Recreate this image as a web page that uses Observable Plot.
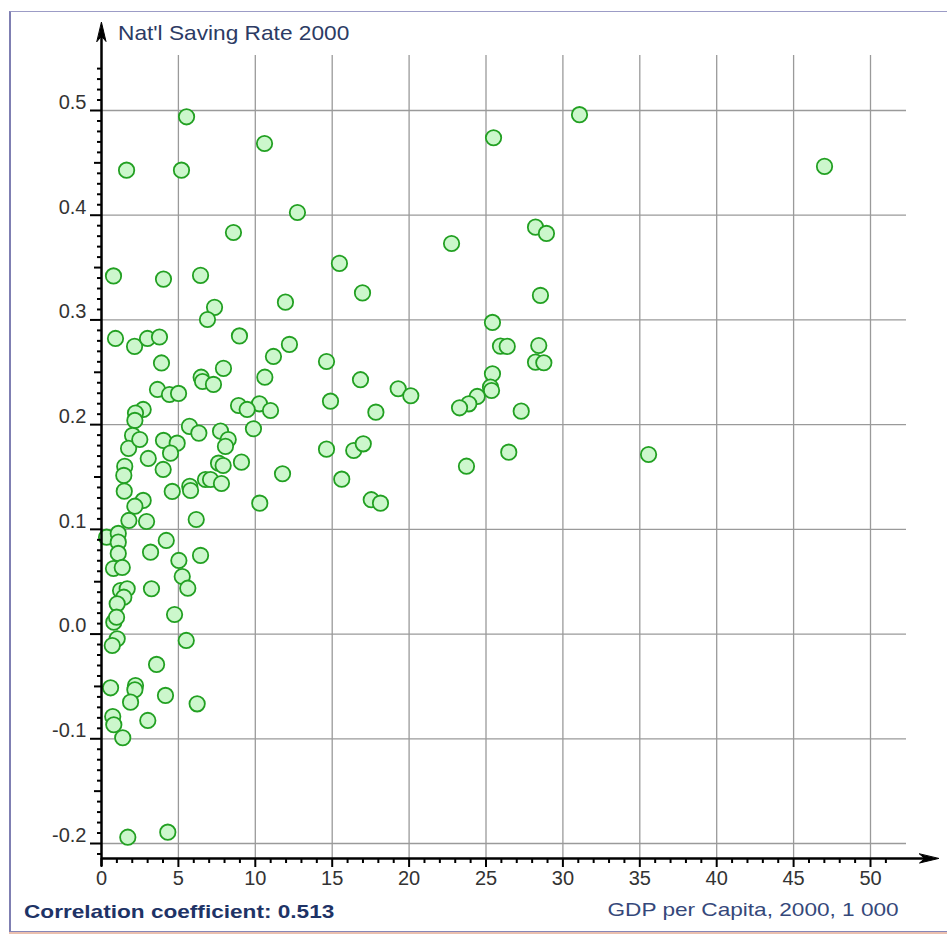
<!DOCTYPE html>
<html>
<head>
<meta charset="utf-8">
<script src="https://cdn.jsdelivr.net/npm/d3@7"></script>
<script src="https://cdn.jsdelivr.net/npm/@observablehq/plot@0.6"></script>
<style>
  html, body { margin: 0; padding: 0; background: #fff; }
  body { width: 947px; height: 935px; position: relative; overflow: hidden; font-family: "Liberation Sans", Arial, sans-serif; }
  #frame { position: absolute; left: 9px; top: 11px; width: 960px; height: 919px;
           border-left: 2px solid #7f7fb2; border-top: 1px solid #9c9cc6; border-bottom: 1px solid #8787b8;
           box-shadow: 0 2px 0 #ebbfae; }
  #chart { position: absolute; left: 0; top: 0; }
  .txt { position: absolute; line-height: 1; white-space: nowrap; }
  #title { left: 118px; top: 22px; font-size: 21px; color: #2c3b64; transform-origin: left top; transform: scaleX(1.08); }
  #corr { left: 24px; top: 902px; font-size: 19px; font-weight: bold; color: #1e3366; transform-origin: left top; transform: scaleX(1.19); }
  #xlab { right: 48px; top: 900px; font-size: 19px; color: #35487a; transform-origin: right top; transform: scaleX(1.19); }
</style>
</head>
<body>
<div id="frame"></div>
<div id="chart"></div>
<div class="txt" id="title">Nat'l Saving Rate 2000</div>
<div class="txt" id="corr">Correlation coefficient: 0.513</div>
<div class="txt" id="xlab">GDP per Capita, 2000, 1 000</div>
<script>
// GDP per capita, 2000 (thousands)
const gdpPerCapita = [
  5.53, 10.60, 1.63, 5.20, 31.08, 25.49, 47.01, 12.74, 8.58, 22.76,
  28.22, 28.93, 0.78, 4.03, 6.44, 15.47, 16.97, 11.96, 7.35, 6.89,
  28.54, 25.42, 0.91, 2.15, 2.99, 3.77, 8.97, 12.22, 11.18, 3.90,
  7.93, 6.48, 6.57, 7.28, 10.62, 14.63, 25.94, 26.38, 28.43, 28.22,
  28.76, 25.42, 16.84, 3.64, 4.42, 5.01, 19.29, 20.11, 14.89, 25.29,
  25.36, 24.43, 23.88, 23.28, 27.29, 17.84, 2.71, 2.21, 2.17, 10.27,
  8.91, 9.47, 10.99, 5.72, 9.88, 2.02, 1.76, 2.49, 4.03, 4.92,
  6.33, 7.74, 8.24, 8.06, 14.63, 16.40, 17.02, 35.57, 26.48, 3.04,
  4.49, 1.51, 4.01, 7.61, 7.91, 9.10, 11.77, 23.73, 1.45, 6.76,
  7.09, 7.80, 15.62, 1.48, 4.60, 5.74, 5.79, 17.54, 18.14, 10.29,
  2.71, 2.17, 1.78, 2.93, 6.16, 0.33, 1.09, 1.09, 4.21, 3.19,
  1.09, 6.44, 5.03, 0.78, 1.35, 5.25, 5.61, 3.25, 1.24, 1.67,
  1.45, 1.02, 4.75, 0.80, 0.98, 5.51, 1.02, 0.70, 3.58, 0.59,
  2.21, 2.17, 4.16, 6.22, 1.89, 0.73, 0.80, 3.01, 1.38, 1.71,
  4.31
];
// National saving rate, 2000
const savingRate = [
  0.494, 0.4685, 0.443, 0.443, 0.496, 0.474, 0.4466, 0.4026, 0.3835, 0.373,
  0.3886, 0.3826, 0.342, 0.339, 0.3425, 0.354, 0.3258, 0.317, 0.312, 0.3004,
  0.3234, 0.2976, 0.2823, 0.2747, 0.2823, 0.2837, 0.2847, 0.2766, 0.2651, 0.2589,
  0.2537, 0.2453, 0.2412, 0.2384, 0.2453, 0.2603, 0.2750, 0.2747, 0.2756, 0.2597,
  0.2591, 0.2486, 0.2429, 0.2336, 0.2288, 0.2298, 0.2343, 0.2276, 0.2224, 0.2358,
  0.2326, 0.2269, 0.2199, 0.2161, 0.2129, 0.2119, 0.2145, 0.211, 0.204, 0.2199,
  0.2183, 0.2145, 0.2135, 0.1983, 0.1961, 0.1897, 0.1773, 0.1858, 0.1849, 0.1823,
  0.1919, 0.1938, 0.1858, 0.1792, 0.1766, 0.1753, 0.1817, 0.1715, 0.1737, 0.1677,
  0.1728, 0.1601, 0.1572, 0.1632, 0.161, 0.1642, 0.1531, 0.1603, 0.1515, 0.1476,
  0.1476, 0.1438, 0.1479, 0.1365, 0.1362, 0.141, 0.1371, 0.1283, 0.125, 0.125,
  0.1276, 0.1221, 0.1085, 0.1075, 0.1094, 0.0925, 0.0961, 0.0878, 0.0894, 0.0782,
  0.077, 0.0751, 0.0703, 0.0626, 0.0636, 0.055, 0.0438, 0.0433, 0.0416, 0.0433,
  0.0352, 0.0289, 0.0187, 0.0114, 0.0161, -0.0061, -0.0045, -0.0109, -0.029, -0.0513,
  -0.0491, -0.0532, -0.0586, -0.0666, -0.065, -0.0787, -0.0866, -0.0825, -0.099, -0.194,
  -0.1892
];
const xTicks = [0, 5, 10, 15, 20, 25, 30, 35, 40, 45, 50];
const xTickLabels = ["0", "5", "10", "15", "20", "25", "30", "35", "40", "45", "50"];
const yTicks = [-0.2, -0.1, 0.0, 0.1, 0.2, 0.3, 0.4, 0.5];
const yTickLabels = ["-0.2", "-0.1", "0.0", "0.1", "0.2", "0.3", "0.4", "0.5"];

const points = gdpPerCapita.map((g, i) => ({gdp: g, saving: savingRate[i]}));
const xLab = xTicks.map((v, i) => ({v, t: xTickLabels[i]}));
const yLab = yTicks.map((v, i) => ({v, t: yTickLabels[i]}));

// scale geometry
const xDomain = [0, 50], xRange = [101, 870];
const yDomain = [-0.2, 0.5], yRange = [843, 110];
const kx = (xRange[1] - xRange[0]) / (xDomain[1] - xDomain[0]);
const ky = (yRange[0] - yRange[1]) / (yDomain[1] - yDomain[0]);
const px2x = (p) => xDomain[0] + (p - xRange[0]) / kx;
const px2y = (p) => yDomain[0] + (yRange[0] - p) / ky;

const xAxisY = px2y(858);      // value at which the x axis line sits
const yAxisTop = px2y(22);     // arrow tip of y axis
const xAxisEnd = px2x(938);    // arrow tip of x axis
const gridTop = px2y(55);
const gridRight = px2x(906);

const yMinor = d3.range(-21, 55).map(i => i / 100).filter(v => Math.abs(Math.round(v * 20) - v * 20) > 1e-6);
const yMid = d3.range(-3, 10, 2).map(i => i / 20); // -0.15 ... 0.45
const xMinor = d3.range(0, 52).filter(v => v % 5 !== 0);

const arrowHead = {
  draw(context, l, r) {
    context.moveTo(0, -l);
    context.lineTo(r, 0);
    context.lineTo(0, -0.28 * l);
    context.lineTo(-r, 0);
    context.closePath();
  }
};

function build(shape) {
  return Plot.plot({
    width: 947,
    height: 935,
    marginLeft: 101,
    marginRight: 77,
    marginTop: 110,
    marginBottom: 92,
    x: {domain: xDomain, range: xRange, axis: null, label: null},
    y: {domain: yDomain, range: yRange, axis: null, label: null},
    style: {background: "transparent", overflow: "visible", fontFamily: "'Liberation Sans', Arial, sans-serif"},
    marks: [
      // grid
      Plot.ruleY(yTicks, {y: d => d, x1: 0, x2: gridRight, stroke: "#9a9a9a", strokeWidth: 1.3}),
      Plot.ruleX(xTicks.filter(d => d > 0), {x: d => d, y1: xAxisY, y2: gridTop, stroke: "#9a9a9a", strokeWidth: 1.3}),
      // points
      Plot.dot(points, {x: "gdp", y: "saving", r: 7.7, fill: "#ccf7cc", stroke: "#22a022", strokeWidth: 1.8}),
      // y axis
      Plot.ruleX([0], {x: d => d, y1: px2y(866), y2: yAxisTop - 10 / ky, stroke: "#000", strokeWidth: 2.5}),
      Plot.ruleY(yMinor, {y: d => d, x1: 0, x2: -4 / kx, stroke: "#000", strokeWidth: 2}),
      Plot.ruleY(yMid, {y: d => d, x1: 0, x2: -7 / kx, stroke: "#000", strokeWidth: 2}),
      Plot.ruleY(yTicks, {y: d => d, x1: 0, x2: -11 / kx, stroke: "#000", strokeWidth: 2}),
      // x axis
      Plot.ruleY([xAxisY], {y: d => d, x1: 0, x2: xAxisEnd - 10 / kx, stroke: "#000", strokeWidth: 2.5}),
      Plot.ruleX(xMinor, {x: d => d, y1: xAxisY, y2: xAxisY - 5 / ky, stroke: "#000", strokeWidth: 2}),
      Plot.ruleX(xTicks, {x: d => d, y1: xAxisY, y2: xAxisY - 9 / ky, stroke: "#000", strokeWidth: 2}),
      // arrow heads
      Plot.vector([0], {x: 0, y: yAxisTop, rotate: 0, length: 19, r: 4.5, anchor: "end", shape, fill: "#000", stroke: "#000", strokeWidth: 1}),
      Plot.vector([0], {x: xAxisEnd, y: xAxisY, rotate: 90, length: 19, r: 4.5, anchor: "end", shape, fill: "#000", stroke: "#000", strokeWidth: 1}),
      // tick labels
      Plot.text(yLab, {x: 0, y: "v", text: "t", textAnchor: "end", dx: -15, dy: -8, fontSize: 20, fill: "#333"}),
      Plot.text(xLab, {x: "v", y: xAxisY, text: "t", dy: 20, fontSize: 20, fill: "#333"})
    ]
  });
}

let chart;
try { chart = build(arrowHead); }
catch (e) {
  try { chart = build("spike"); } catch (e2) { chart = build("arrow"); }
}
document.getElementById("chart").appendChild(chart);
</script>
</body>
</html>
